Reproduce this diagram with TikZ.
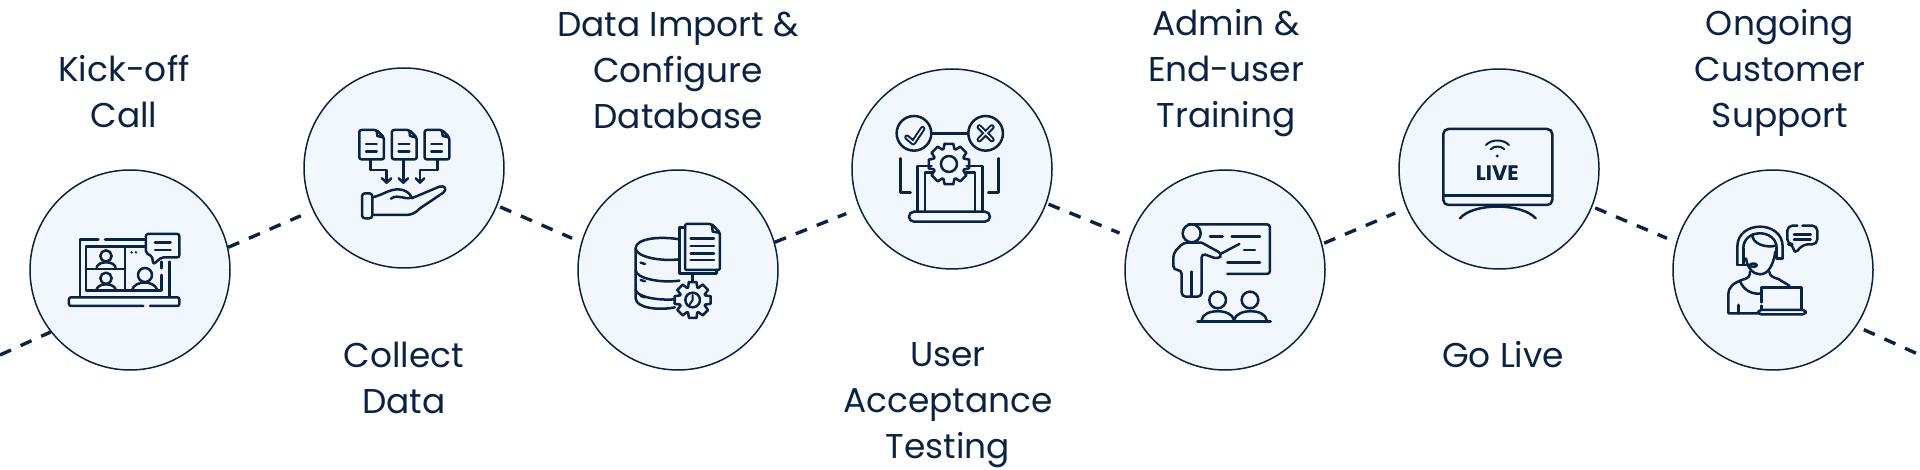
\documentclass[tikz,border=0pt]{standalone}
\usepackage{fontspec}
\setmainfont{Poppins}
\definecolor{navy}{HTML}{0A2342}
\definecolor{paleblue}{HTML}{F2F7FE}
\tikzset{
  stepcircle/.style={circle, draw=navy, fill=paleblue, line width=1.5pt, minimum size=200pt, inner sep=0pt},
  steplabel/.style={align=center, text=navy, inner sep=0pt, font=\fontsize{34.4}{46}\selectfont},
  pathline/.style={draw=navy, line width=3.4pt, dash pattern=on 12pt off 10.6pt},
  iconline/.style={draw=navy, line width=2.5pt, line cap=round, line join=round},
  thinline/.style={draw=navy, line width=2pt, line cap=round, line join=round}
}
% gear outline: centre, inner radius, outer radius
\newcommand{\gearicon}[3]{
  \begin{scope}[shift={(#1)}]
    \foreach \a in {0,45,...,315}
      \draw[iconline] (\a-12:#3) -- (\a+12:#3) -- (\a+20:#2) -- (\a+25:#2) -- (\a+33:#3);
  \end{scope}
}
\begin{document}
\begin{tikzpicture}[x=1pt, y=-1pt]
  \useasboundingbox (0,0) rectangle (1920,470);
  % Steps
  \node[stepcircle] (kickoff) at (130,270) {};
  \node[stepcircle] (collect) at (404,168) {};
  \node[stepcircle] (dataimport) at (678,270) {};
  \node[stepcircle] (testing) at (952,169) {};
  \node[stepcircle] (training) at (1225,270) {};
  \node[stepcircle] (golive) at (1499,169) {};
  \node[stepcircle] (support) at (1773,270) {};
  \coordinate (pathin) at (0,355);
  \coordinate (pathout) at (1920,355);
  % Dashed path
  \draw[pathline] (pathin) -- (kickoff.218);
  \draw[pathline, shorten >=13pt] (kickoff.13) -- (collect.205);
  \draw[pathline, shorten <=3pt, shorten >=10pt] (collect.-22) -- (dataimport.164);
  \draw[pathline, shorten >=14pt] (dataimport.16) -- (testing.203);
  \draw[pathline, shorten <=2pt, shorten >=11pt] (testing.-20) -- (training.161);
  \draw[pathline, shorten <=2pt, shorten >=12pt] (training.15) -- (golive.203);
  \draw[pathline, shorten <=3pt, shorten >=10pt] (golive.-22) -- (support.164);
  \draw[pathline, shorten <=8pt] (support.-34) -- (pathout);
  % Labels
  \node[steplabel] (kickofflabel) at (124,92) {Kick-off\\Call};
  \node[steplabel] (collectlabel) at (404,378) {Collect\\Data};
  \node[steplabel] (dataimportlabel) at (678,70) {Data Import \&\\Configure\\Database};
  \node[steplabel] (testinglabel) at (948,405) {User\\Acceptance\\Testing};
  \node[steplabel] (traininglabel) at (1226,73) {Admin \&\\End-user\\Training};
  \node[steplabel] (golivelabel) at (1503,355) {Go Live};
  \node[steplabel] (supportlabel) at (1780,73) {Ongoing\\Customer\\Support};
  % Video call icon
  \begin{scope}[shift={(60,220)}, x=0.3333pt, y=-0.3333pt]
    \draw[iconline] (115,58) -- (60,58) -- (60,230);
    \draw[iconline] (135,58) -- (255,58);
    \draw[iconline] (328,125) -- (328,230);
    \draw[iconline, rounded corners=2pt] (250,258) -- (27,258) -- (27,232) -- (358,232) -- (358,258) -- (270,258);
    \draw[iconline] (255,80) -- (78,80) -- (78,212) -- (305,212) -- (305,165);
    \draw[iconline] (195,80) -- (195,212);
    \draw[iconline] (78,147) -- (195,147);
    \draw[iconline] (305,125) -- (305,145);
    \fill[navy] (215,97) circle (4) (228,97) circle (4);
    \draw[iconline] (138,108) circle (17);
    \draw[iconline] (110,142) .. controls (115,122) and (161,122) .. (167,142);
    \draw[iconline] (138,175) circle (17);
    \draw[iconline] (110,208) .. controls (115,188) and (161,188) .. (167,208);
    \draw[iconline] (255,165) circle (21);
    \draw[iconline] (216,210) .. controls (225,180) and (282,180) .. (292,210);
    \draw[iconline, fill=paleblue, rounded corners=2pt] (258,42) -- (358,42) -- (358,112) -- (305,112) -- (280,133) -- (276,108) -- (258,100) -- cycle;
    \draw[iconline] (285,68) -- (332,68);
    \draw[iconline] (285,90) -- (332,90);
  \end{scope}
  % Collect data icon
  \begin{scope}[shift={(340,110)}, x=0.3333pt, y=-0.3333pt]
    \foreach \dx in {0,98,196}{
      \draw[iconline, rounded corners=2pt] (58+\dx,60) -- (110+\dx,60) -- (132+\dx,82) -- (132+\dx,148) -- (58+\dx,148) -- cycle;
      \draw[iconline] (110+\dx,62) -- (112+\dx,78) -- (130+\dx,82);
      \draw[iconline] (78+\dx,102) -- (110+\dx,102);
      \draw[iconline] (78+\dx,125) -- (110+\dx,125);
    }
    \draw[iconline] (190,150) -- (190,218);
    \draw[iconline] (176,205) -- (190,218) -- (204,205);
    \draw[iconline] (92,150) -- (92,180) -- (140,180) -- (140,218);
    \draw[iconline] (126,205) -- (140,218) -- (154,205);
    \draw[iconline] (292,150) -- (292,180) -- (240,180) -- (240,218);
    \draw[iconline] (227,205) -- (240,218) -- (253,205);
    \draw[iconline, rounded corners=3pt] (66,250) rectangle (97,325);
    \draw[iconline] (97,262) .. controls (130,255) and (145,238) .. (175,238) .. controls (195,238) and (210,250) .. (215,262) .. controls (195,272) and (175,250) .. (153,266);
    \draw[iconline] (215,265) -- (298,230) .. controls (315,225) and (322,238) .. (310,248) -- (240,295) .. controls (225,310) and (215,315) .. (195,315) -- (97,315);
  \end{scope}
  % Database icon
  \begin{scope}[shift={(620,210)}, x=0.3333pt, y=-0.3333pt]
    \draw[iconline] (178,88) .. controls (120,78) and (47,85) .. (47,115) -- (47,265) .. controls (47,295) and (120,302) .. (165,292);
    \draw[iconline] (47,115) .. controls (47,140) and (120,155) .. (178,148);
    \draw[iconline] (47,180) .. controls (47,205) and (120,220) .. (178,212);
    \draw[iconline] (47,238) .. controls (47,260) and (110,272) .. (165,268);
    \draw[iconline] (62,158) -- (75,162);
    \draw[iconline] (62,210) -- (75,214);
    \draw[iconline] (62,258) -- (75,262);
    \draw[iconline] (195,52) -- (178,52) -- (178,190) -- (290,190) -- (290,180);
    \draw[iconline, rounded corners=2pt] (195,42) -- (275,42) -- (300,68) -- (300,180) -- (195,180) -- cycle;
    \draw[iconline] (276,44) -- (278,65) -- (298,68);
    \foreach \ly in {85,108,130,150}
      \draw[iconline] (212,\ly) -- (282,\ly);
    \draw[iconline] (218,190) -- (218,216);
    \gearicon{218,270}{40}{55}
    \draw[iconline] (218,270) circle (22);
    \draw[thinline] (218,255) -- (218,270) -- (208,285);
  \end{scope}
  % Testing icon
  \begin{scope}[shift={(560,50)}, x=0.3333pt, y=-0.3333pt]
    \draw[iconline] (1062,250) circle (52);
    \draw[iconline] (1277,250) circle (52);
    \draw[iconline] (1115,250) -- (1225,250);
    \draw[navy, line width=5.5pt, line cap=round, line join=round] (1041,262) -- (1060,278) -- (1088,236);
    \draw[paleblue, line width=1.4pt, line cap=round, line join=round] (1041,262) -- (1060,278) -- (1088,236);
    \draw[navy, line width=5.5pt, line cap=round] (1258,231) -- (1296,269) (1296,231) -- (1258,269);
    \draw[paleblue, line width=1.4pt, line cap=round] (1258,231) -- (1296,269) (1296,231) -- (1258,269);
    \draw[iconline] (1115,348) -- (1072,348) -- (1072,485);
    \draw[iconline] (1220,348) -- (1268,348) -- (1268,485);
    \draw[iconline] (1118,368) -- (1095,368) -- (1095,482);
    \draw[iconline] (1218,368) -- (1245,368) -- (1245,482);
    \draw[iconline, rounded corners=5pt] (1047,485) rectangle (1290,515);
    \draw[iconline] (1022,325) -- (1022,428) -- (1052,428);
    \draw[iconline] (1315,325) -- (1315,428) -- (1285,428);
    \gearicon{1167,342}{48}{62}
    \draw[iconline] (1167,342) circle (24);
  \end{scope}
  % Training icon
  \begin{scope}[shift={(1120,50)}, x=0.3333pt, y=-0.3333pt]
    \draw[iconline, rounded corners=3pt] (205,523) -- (450,523) -- (450,672) -- (322,672);
    \draw[iconline] (270,560) -- (308,560);
    \draw[iconline] (335,560) -- (420,560);
    \draw[iconline] (372,600) -- (405,600);
    \draw[iconline] (322,638) -- (420,638);
    \draw[iconline, fill=paleblue] (215,550) circle (27);
    \draw[iconline, rounded corners=4pt] (245,578) -- (190,578) -- (160,610) -- (160,660) -- (185,660) -- (185,740) -- (245,740) -- (245,610) -- (295,628) -- (307,612) -- (245,578);
    \draw[iconline] (215,665) -- (215,738);
    \draw[iconline] (305,610) -- (358,582);
    \draw[iconline] (293,750) circle (25);
    \draw[iconline] (390,750) circle (25);
    \draw[iconline] (245,810) .. controls (250,775) and (335,775) .. (342,810);
    \draw[iconline] (342,810) .. controls (350,775) and (435,775) .. (440,810);
    \draw[iconline] (232,815) -- (452,815);
  \end{scope}
  % Live icon
  \begin{scope}[shift={(1120,50)}, x=0.3333pt, y=-0.3333pt]
    \draw[iconline, rounded corners=5pt] (970,237) rectangle (1297,465);
    \draw[iconline] (970,437) -- (1297,437);
    \draw[iconline] (1020,505) .. controls (1060,458) and (1205,458) .. (1247,505);
    \fill[navy] (1132,318) circle (5);
    \draw[thinline] (1112,298) .. controls (1122,287) and (1143,287) .. (1153,298);
    \draw[thinline] (1098,285) .. controls (1115,267) and (1150,267) .. (1167,285);
    \node[text=navy, inner sep=0pt, font=\fontsize{21}{21}\selectfont\bfseries] (liveword) at (1132,369) {LIVE};
  \end{scope}
  % Support icon
  \begin{scope}[shift={(1710,215)}, x=0.3333pt, y=-0.3333pt]
    \draw[iconline] (82,150) -- (82,95) .. controls (82,15) and (218,15) .. (218,95) -- (218,130);
    \draw[iconline] (100,100) .. controls (100,40) and (200,40) .. (200,100);
    \draw[iconline] (100,100) -- (100,148);
    \draw[iconline] (200,100) -- (200,130) -- (218,130);
    \draw[iconline] (82,150) -- (120,150);
    \draw[iconline, rounded corners=2pt] (120,146) rectangle (140,155);
    \draw[iconline] (127,58) .. controls (125,85) and (165,100) .. (198,92);
    \draw[iconline] (108,130) .. controls (112,160) and (130,178) .. (150,178) .. controls (175,178) and (190,150) .. (196,110);
    \draw[iconline] (120,170) .. controls (120,185) and (115,190) .. (95,195) .. controls (70,205) and (55,215) .. (55,240) -- (55,295) -- (145,295);
    \draw[iconline] (178,170) .. controls (178,182) and (190,188) .. (205,192) -- (238,212);
    \draw[iconline] (90,198) .. controls (100,225) and (125,238) .. (150,236);
    \draw[iconline] (85,270) -- (85,295);
    \draw[iconline] (155,262) -- (155,218) -- (275,218) -- (275,285);
    \draw[iconline] (155,272) -- (155,285);
    \draw[iconline, rounded corners=3pt] (145,285) rectangle (287,298);
    \draw[iconline, rounded corners=5pt] (262,32) -- (232,32) -- (232,88) -- (250,88) -- (252,118) -- (280,88) -- (322,88) -- (322,32) -- (277,32);
    \draw[iconline] (252,58) -- (302,58);
    \draw[iconline] (252,74) -- (302,74);
  \end{scope}
\end{tikzpicture}
\end{document}
